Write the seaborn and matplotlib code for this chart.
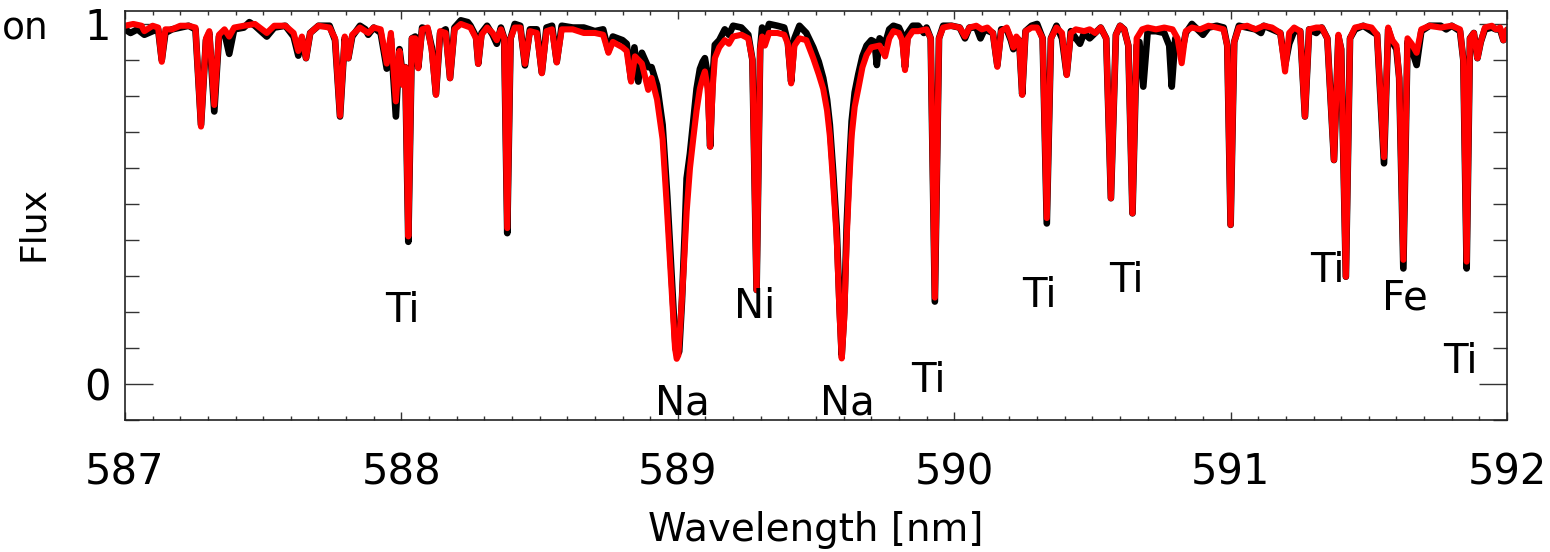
import numpy as np
import pandas as pd
import matplotlib
matplotlib.use("Agg")
import matplotlib.pyplot as plt
from matplotlib.ticker import MultipleLocator, FixedLocator
import seaborn as sns

# ---------------- data ----------------
wl_model = [
    587.000, 587.030, 587.060, 587.070, 587.100, 587.120, 587.133, 587.146, 587.170, 587.200,
    587.230, 587.255, 587.275, 587.293, 587.305, 587.323, 587.340, 587.360, 587.377, 587.395,
    587.430, 587.470, 587.513, 587.540, 587.580, 587.610, 587.627, 587.640, 587.655, 587.670,
    587.700, 587.740, 587.760, 587.778, 587.795, 587.808, 587.822, 587.850, 587.880, 587.900,
    587.925, 587.947, 587.962, 587.980, 587.993, 588.006, 588.014, 588.025, 588.038, 588.050,
    588.061, 588.075, 588.095, 588.110, 588.125, 588.140, 588.160, 588.176, 588.192, 588.215,
    588.250, 588.270, 588.278, 588.290, 588.310, 588.330, 588.345, 588.360, 588.372, 588.383,
    588.395, 588.410, 588.430, 588.447, 588.465, 588.490, 588.508, 588.525, 588.545, 588.562,
    588.580, 588.620, 588.660, 588.700, 588.730, 588.749, 588.765, 588.800, 588.815, 588.831,
    588.845, 588.870, 588.893, 588.905, 588.925, 588.945, 588.960, 588.978, 588.990, 588.996,
    589.002, 589.012, 589.022, 589.032, 589.044, 589.056, 589.068, 589.080, 589.090, 589.098,
    589.108, 589.117, 589.126, 589.134, 589.150, 589.170, 589.185, 589.200, 589.230, 589.255,
    589.270, 589.285, 589.298, 589.305, 589.315, 589.330, 589.360, 589.385, 589.398, 589.410,
    589.422, 589.440, 589.465, 589.490, 589.510, 589.526, 589.540, 589.550, 589.562, 589.575,
    589.585, 589.593, 589.602, 589.611, 589.620, 589.629, 589.640, 589.653, 589.668, 589.683,
    589.700, 589.730, 589.750, 589.765, 589.780, 589.800, 589.812, 589.822, 589.832, 589.850,
    589.870, 589.900, 589.915, 589.930, 589.945, 589.960, 589.990, 590.020, 590.039, 590.055,
    590.080, 590.100, 590.120, 590.140, 590.156, 590.170, 590.190, 590.205, 590.214, 590.225,
    590.235, 590.246, 590.258, 590.280, 590.300, 590.320, 590.335, 590.350, 590.370, 590.390,
    590.407, 590.422, 590.440, 590.470, 590.490, 590.510, 590.530, 590.550, 590.567, 590.585,
    590.600, 590.615, 590.630, 590.645, 590.660, 590.680, 590.700, 590.730, 590.760, 590.790,
    590.808, 590.823, 590.838, 590.860, 590.890, 590.920, 590.950, 590.975, 590.988, 591.000,
    591.013, 591.030, 591.060, 591.090, 591.120, 591.150, 591.180, 591.197, 591.212, 591.230,
    591.252, 591.269, 591.284, 591.310, 591.330, 591.350, 591.374, 591.390, 591.400, 591.417,
    591.432, 591.450, 591.480, 591.510, 591.530, 591.555, 591.570, 591.585, 591.600, 591.610,
    591.625, 591.640, 591.655, 591.673, 591.690, 591.720, 591.760, 591.800, 591.830, 591.842,
    591.854, 591.866, 591.880, 591.893, 591.905, 591.920, 591.945, 591.960, 591.975, 591.987,
    592.000,
]
flux_model = [
    0.995, 1.000, 0.995, 0.980, 0.995, 0.990, 0.895, 0.985, 0.985, 0.995,
    0.995, 0.990, 0.715, 0.960, 0.980, 0.775, 0.970, 0.985, 0.965, 0.990,
    0.995, 1.000, 0.975, 0.995, 0.995, 0.975, 0.925, 0.965, 0.905, 0.975,
    0.995, 0.990, 0.960, 0.745, 0.965, 0.905, 0.970, 0.990, 0.975, 0.990,
    0.985, 0.890, 0.975, 0.785, 0.925, 0.830, 0.880, 0.410, 0.960, 0.960,
    0.877, 0.985, 0.990, 0.925, 0.803, 0.980, 0.975, 0.849, 0.985, 1.000,
    0.990, 0.960, 0.889, 0.970, 0.990, 0.975, 0.955, 0.985, 0.960, 0.433,
    0.960, 0.990, 0.990, 0.889, 0.980, 0.975, 0.863, 0.980, 0.985, 0.893,
    0.985, 0.985, 0.975, 0.975, 0.970, 0.920, 0.950, 0.935, 0.925, 0.840,
    0.910, 0.890, 0.817, 0.850, 0.790, 0.680, 0.497, 0.260, 0.100, 0.070,
    0.080, 0.200, 0.330, 0.479, 0.600, 0.682, 0.760, 0.821, 0.850, 0.868,
    0.820, 0.659, 0.820, 0.905, 0.935, 0.955, 0.945, 0.965, 0.970, 0.960,
    0.900, 0.261, 0.930, 0.965, 0.940, 0.975, 0.975, 0.970, 0.945, 0.835,
    0.940, 0.960, 0.955, 0.905, 0.860, 0.820, 0.760, 0.690, 0.560, 0.405,
    0.200, 0.071, 0.180, 0.405, 0.560, 0.690, 0.770, 0.820, 0.880, 0.914,
    0.935, 0.940, 0.910, 0.960, 0.980, 0.975, 0.955, 0.872, 0.960, 0.980,
    0.980, 0.985, 0.960, 0.240, 0.960, 0.990, 0.995, 0.990, 0.965, 0.990,
    0.995, 0.985, 0.990, 0.975, 0.881, 0.980, 0.990, 0.960, 0.935, 0.965,
    0.955, 0.803, 0.980, 0.990, 0.990, 0.960, 0.461, 0.960, 0.990, 0.975,
    0.858, 0.975, 0.985, 0.980, 0.985, 0.975, 0.990, 0.960, 0.516, 0.970,
    0.995, 0.985, 0.940, 0.474, 0.960, 0.985, 0.990, 0.985, 0.990, 0.985,
    0.960, 0.891, 0.980, 0.990, 0.985, 0.995, 0.990, 0.985, 0.940, 0.442,
    0.950, 0.990, 0.995, 0.985, 0.995, 0.990, 0.975, 0.868, 0.975, 0.990,
    0.980, 0.743, 0.985, 0.990, 0.990, 0.960, 0.622, 0.970, 0.930, 0.298,
    0.960, 0.990, 0.995, 0.990, 0.970, 0.630, 0.990, 0.955, 0.940, 0.850,
    0.345, 0.960, 0.945, 0.920, 0.985, 0.995, 0.990, 0.995, 0.985, 0.900,
    0.340, 0.960, 0.975, 0.905, 0.950, 0.990, 0.995, 0.985, 0.990, 0.955,
    0.985,
]

wl_obs = [
    587.000, 587.020, 587.045, 587.070, 587.100, 587.120, 587.133, 587.146, 587.170, 587.200,
    587.230, 587.255, 587.275, 587.293, 587.305, 587.323, 587.340, 587.360, 587.377, 587.395,
    587.430, 587.450, 587.470, 587.513, 587.540, 587.580, 587.610, 587.627, 587.640, 587.655,
    587.670, 587.700, 587.740, 587.760, 587.778, 587.795, 587.808, 587.822, 587.850, 587.870,
    587.880, 587.900, 587.925, 587.947, 587.962, 587.980, 587.993, 588.006, 588.014, 588.025,
    588.038, 588.050, 588.061, 588.075, 588.095, 588.110, 588.125, 588.140, 588.160, 588.176,
    588.192, 588.215, 588.240, 588.250, 588.270, 588.278, 588.290, 588.310, 588.330, 588.345,
    588.360, 588.372, 588.383, 588.395, 588.410, 588.430, 588.447, 588.465, 588.490, 588.508,
    588.525, 588.545, 588.562, 588.580, 588.620, 588.660, 588.700, 588.730, 588.749, 588.765,
    588.800, 588.815, 588.831, 588.843, 588.857, 588.870, 588.893, 588.905, 588.925, 588.945,
    588.962, 588.980, 588.992, 588.998, 589.005, 589.015, 589.025, 589.032, 589.044, 589.056,
    589.068, 589.080, 589.090, 589.098, 589.108, 589.117, 589.126, 589.134, 589.150, 589.170,
    589.185, 589.200, 589.230, 589.255, 589.270, 589.285, 589.298, 589.305, 589.315, 589.330,
    589.360, 589.385, 589.398, 589.410, 589.422, 589.440, 589.465, 589.490, 589.510, 589.526,
    589.540, 589.550, 589.562, 589.575, 589.585, 589.593, 589.602, 589.611, 589.620, 589.629,
    589.640, 589.653, 589.668, 589.683, 589.700, 589.712, 589.720, 589.730, 589.750, 589.765,
    589.780, 589.800, 589.812, 589.822, 589.832, 589.850, 589.870, 589.890, 589.900, 589.915,
    589.930, 589.945, 589.960, 589.990, 590.020, 590.039, 590.055, 590.080, 590.095, 590.110,
    590.140, 590.156, 590.170, 590.190, 590.205, 590.214, 590.225, 590.235, 590.246, 590.258,
    590.280, 590.300, 590.320, 590.335, 590.350, 590.370, 590.390, 590.407, 590.422, 590.440,
    590.455, 590.470, 590.490, 590.510, 590.530, 590.550, 590.567, 590.585, 590.600, 590.615,
    590.630, 590.645, 590.660, 590.670, 590.684, 590.700, 590.730, 590.760, 590.778, 590.787,
    590.800, 590.823, 590.838, 590.860, 590.880, 590.900, 590.920, 590.950, 590.975, 590.988,
    591.000, 591.013, 591.030, 591.060, 591.090, 591.110, 591.120, 591.150, 591.180, 591.197,
    591.212, 591.230, 591.252, 591.269, 591.284, 591.310, 591.330, 591.350, 591.374, 591.390,
    591.400, 591.417, 591.432, 591.450, 591.480, 591.510, 591.530, 591.555, 591.570, 591.585,
    591.600, 591.610, 591.625, 591.640, 591.655, 591.673, 591.690, 591.720, 591.760, 591.780,
    591.800, 591.830, 591.842, 591.854, 591.866, 591.880, 591.893, 591.905, 591.920, 591.945,
    591.960, 591.975, 591.987, 592.000,
]
flux_obs = [
    0.985, 0.975, 0.985, 0.970, 0.980, 0.985, 0.900, 0.975, 0.985, 0.990,
    0.995, 0.985, 0.720, 0.955, 0.975, 0.757, 0.965, 0.975, 0.917, 0.985,
    0.990, 1.005, 0.995, 0.965, 0.990, 0.995, 0.965, 0.912, 0.960, 0.905,
    0.975, 0.995, 0.995, 0.955, 0.743, 0.960, 0.905, 0.965, 0.995, 0.985,
    0.970, 0.990, 0.975, 0.876, 0.960, 0.743, 0.930, 0.850, 0.880, 0.395,
    0.960, 0.965, 0.880, 0.990, 0.985, 0.935, 0.805, 0.975, 0.985, 0.850,
    0.990, 1.010, 1.005, 0.995, 0.965, 0.890, 0.975, 0.995, 0.970, 0.945,
    0.990, 0.960, 0.419, 0.960, 1.000, 0.995, 0.885, 0.985, 0.985, 0.865,
    0.990, 0.995, 0.895, 0.995, 0.990, 0.990, 0.980, 0.985, 0.925, 0.965,
    0.955, 0.945, 0.845, 0.935, 0.840, 0.920, 0.880, 0.880, 0.830, 0.720,
    0.520, 0.270, 0.100, 0.080, 0.090, 0.230, 0.420, 0.571, 0.640, 0.730,
    0.820, 0.875, 0.895, 0.905, 0.860, 0.660, 0.850, 0.942, 0.955, 0.985,
    0.970, 0.995, 0.990, 0.970, 0.900, 0.261, 0.930, 0.990, 0.960, 1.000,
    0.995, 0.990, 0.950, 0.840, 0.960, 0.995, 0.975, 0.935, 0.895, 0.850,
    0.790, 0.720, 0.590, 0.430, 0.220, 0.080, 0.200, 0.440, 0.600, 0.730,
    0.810, 0.860, 0.910, 0.940, 0.955, 0.950, 0.886, 0.960, 0.945, 0.985,
    0.995, 0.990, 0.970, 0.880, 0.975, 0.995, 0.995, 0.975, 0.990, 0.960,
    0.229, 0.960, 0.995, 0.995, 0.990, 0.960, 0.990, 0.990, 0.960, 0.985,
    0.975, 0.885, 0.985, 0.985, 0.955, 0.930, 0.960, 0.955, 0.805, 0.980,
    0.995, 1.000, 0.960, 0.446, 0.960, 0.995, 0.960, 0.860, 0.980, 0.960,
    0.945, 0.975, 0.960, 0.975, 0.990, 0.960, 0.516, 0.970, 0.995, 0.985,
    0.940, 0.474, 0.940, 0.950, 0.826, 0.980, 0.980, 0.975, 0.940, 0.826,
    0.960, 0.920, 0.975, 1.000, 0.985, 0.970, 0.990, 0.995, 0.990, 0.940,
    0.442, 0.950, 0.995, 0.990, 0.985, 0.975, 0.995, 0.985, 0.975, 0.885,
    0.945, 0.980, 0.980, 0.743, 0.985, 0.975, 0.990, 0.960, 0.622, 0.965,
    0.930, 0.298, 0.960, 0.985, 0.995, 0.980, 0.970, 0.613, 0.985, 0.950,
    0.930, 0.850, 0.321, 0.950, 0.930, 0.886, 0.980, 0.995, 0.995, 0.985,
    0.995, 0.980, 0.900, 0.321, 0.960, 0.975, 0.905, 0.950, 0.985, 0.990,
    0.985, 0.985, 0.955, 0.975,
]

line_labels = ["Ti", "Na", "Ni", "Na", "Ti", "Ti", "Ti", "Ti", "Fe", "Ti"]
label_wl = [588.002, 589.017, 589.279, 589.614, 589.905, 590.307, 590.622, 591.349, 591.631, 591.830]
label_y = [0.172, -0.086, 0.183, -0.086, -0.022, 0.214, 0.256, 0.283, 0.208, 0.031]

x_ticks = [587, 588, 589, 590, 591, 592]
y_ticks = [0, 1]

# ---------------- plot ----------------
sns.set_style("ticks")
plt.rcParams["font.family"] = ["DejaVu Sans"]
plt.rcParams["text.color"] = "black"
plt.rcParams["axes.labelcolor"] = "black"
plt.rcParams["xtick.color"] = "black"
plt.rcParams["ytick.color"] = "black"

fig = plt.figure(figsize=(15.5, 5.52), dpi=100)
ax = fig.add_axes([125 / 1550, 1 - 420 / 552, (1507 - 125) / 1550, (420 - 11) / 552])

df_obs = pd.DataFrame({"wl": wl_obs, "flux": flux_obs})
df_mod = pd.DataFrame({"wl": wl_model, "flux": flux_model})

sns.lineplot(data=df_obs, x="wl", y="flux", ax=ax, color="black", lw=4.8,
             sort=False, estimator=None)
sns.lineplot(data=df_mod, x="wl", y="flux", ax=ax, color="#ff0000", lw=4.4,
             sort=False, estimator=None)

ax.set_xlim(587, 592)
ax.set_ylim(-0.1, 1.036)

ax.xaxis.set_major_locator(FixedLocator(x_ticks))
ax.xaxis.set_minor_locator(MultipleLocator(0.1))
ax.yaxis.set_major_locator(FixedLocator(y_ticks))
ax.yaxis.set_minor_locator(MultipleLocator(0.1))
ax.set_xticklabels([str(t) for t in x_ticks])
ax.set_yticklabels([str(t) for t in y_ticks])

ax.tick_params(which="both", direction="in", top=True, right=True,
               color="#333333", width=1.0, labelcolor="black")
ax.tick_params(axis="x", which="major", length=6, labelsize=30, pad=23)
ax.tick_params(axis="x", which="minor", length=3.2)
ax.tick_params(axis="y", which="major", length=20, labelsize=30, pad=10)
ax.tick_params(axis="y", which="minor", length=10)

for s in ax.spines.values():
    s.set_linewidth(1.2)
    s.set_color("#222222")

ax.set_xlabel("Wavelength [nm]", fontsize=28, labelpad=12, color="black")
ax.set_ylabel("Flux", fontsize=26, color="black")
ax.yaxis.set_label_coords(-0.054, 0.48)

for lab, xw, yv in zip(line_labels, label_wl, label_y):
    ax.text(xw, yv, lab, ha="center", va="baseline", fontsize=29, color="black")

fig.text(2 / 1550, 1 - 40 / 552, "on", ha="left", va="baseline", fontsize=27, color="black")

fig.savefig("out.png", dpi=100)
